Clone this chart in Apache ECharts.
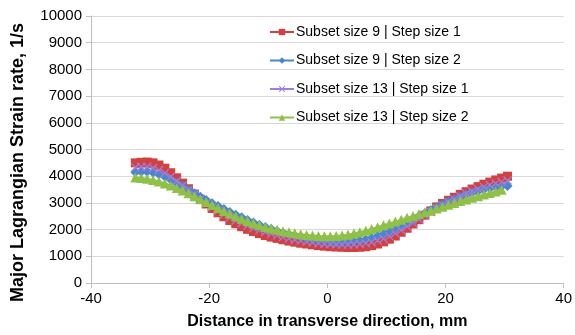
<!DOCTYPE html>
<html>
<head>
<meta charset="utf-8">
<script src="https://cdn.jsdelivr.net/npm/echarts@6/dist/echarts.min.js"></script>
<style>
  html, body { margin: 0; padding: 0; background: #fff; }
  #chart { width: 575px; height: 335px; }
</style>
</head>
<body>
<div id="chart"></div>
<script>
// distance in transverse direction, mm
const positions = [
  -32.5, -31.5, -30.5, -29.5, -28.5, -27.5, -26.5, -25.5, -24.5, -23.5, -22.5,
  -21.5, -20.5, -19.5, -18.5, -17.5, -16.5, -15.5, -14.5, -13.5, -12.5, -11.5,
  -10.5, -9.5, -8.5, -7.5, -6.5, -5.5, -4.5, -3.5, -2.5, -1.5, -0.5,
  0.5, 1.5, 2.5, 3.5, 4.5, 5.5, 6.5, 7.5, 8.5, 9.5, 10.5,
  11.5, 12.5, 13.5, 14.5, 15.5, 16.5, 17.5, 18.5, 19.5, 20.5, 21.5,
  22.5, 23.5, 24.5, 25.5, 26.5, 27.5, 28.5, 29.5, 30.5
]

// major lagrangian strain rate, 1/s
const subset9step1 = [
  4500, 4520, 4530, 4500, 4420, 4300, 4130, 3940, 3740, 3530, 3330,
  3140, 2960, 2790, 2630, 2480, 2340, 2220, 2110, 2010, 1930, 1850,
  1780, 1720, 1670, 1620, 1570, 1530, 1490, 1460, 1430, 1400, 1380,
  1360, 1350, 1340, 1330, 1330, 1340, 1360, 1400, 1460, 1540, 1640,
  1760, 1900, 2050, 2210, 2370, 2540, 2700, 2850, 2980, 3100, 3210,
  3320, 3420, 3520, 3610, 3700, 3780, 3860, 3930, 4000
]
const subset9step2 = [
  4150, 4170, 4170, 4140, 4070, 3980, 3870, 3750, 3620, 3490, 3360,
  3230, 3110, 2990, 2880, 2770, 2660, 2560, 2460, 2360, 2270, 2180,
  2100, 2020, 1950, 1880, 1820, 1760, 1710, 1660, 1620, 1590, 1560,
  1540, 1530, 1530, 1540, 1560, 1590, 1630, 1690, 1760, 1840, 1930,
  2030, 2140, 2250, 2370, 2490, 2610, 2730, 2840, 2950, 3050, 3140,
  3230, 3310, 3380, 3440, 3500, 3550, 3590, 3620, 3630
]
const subset13step1 = [
  4330, 4350, 4350, 4310, 4230, 4120, 3980, 3820, 3650, 3480, 3310,
  3140, 2990, 2840, 2700, 2570, 2450, 2340, 2240, 2150, 2060, 1980,
  1910, 1840, 1780, 1720, 1670, 1620, 1580, 1550, 1520, 1490, 1470,
  1460, 1450, 1440, 1440, 1450, 1460, 1490, 1530, 1590, 1660, 1750,
  1860, 1980, 2110, 2250, 2390, 2530, 2660, 2790, 2910, 3030, 3140,
  3250, 3350, 3440, 3520, 3600, 3670, 3730, 3790, 3840
]
const subset13step2 = [
  3950, 3930, 3900, 3860, 3800, 3730, 3650, 3560, 3460, 3360, 3250,
  3140, 3030, 2920, 2810, 2700, 2600, 2500, 2410, 2320, 2240, 2170,
  2100, 2040, 1990, 1940, 1900, 1860, 1830, 1800, 1780, 1760, 1750,
  1750, 1760, 1780, 1810, 1850, 1900, 1960, 2020, 2090, 2160, 2230,
  2300, 2370, 2440, 2510, 2580, 2650, 2720, 2790, 2860, 2930, 3000,
  3070, 3130, 3190, 3250, 3310, 3370, 3430, 3490, null
]

const seriesNames = [
  'Subset size 9 | Step size 1',
  'Subset size 9 | Step size 2',
  'Subset size 13 | Step size 1',
  'Subset size 13 | Step size 2'
]

const xMark = 'path://M0,1 L1,0 L5,4 L9,0 L10,1 L6,5 L10,9 L9,10 L5,6 L1,10 L0,9 L4,5 Z'

function pairs(values) {
  return positions.map((x, i) => [x, values[i]])
}

function makeSeries(name, values, color, symbol, size) {
  return {
    name: name,
    type: 'line',
    data: pairs(values),
    symbol: symbol,
    symbolSize: size,
    showAllSymbol: true,
    connectNulls: false,
    itemStyle: { color: color },
    lineStyle: { color: color, width: 2 },
    emphasis: { disabled: true },
    animation: false
  }
}

const chart = echarts.init(document.getElementById('chart'))
chart.setOption({
  textStyle: { fontFamily: 'Liberation Sans, Arial, sans-serif' },
  grid: {
    left: 91,
    right: 10,
    top: 16,
    bottom: 51
  },
  legend: {
    orient: 'vertical',
    left: 264,
    top: 20,
    itemWidth: 24,
    itemHeight: 8,
    itemGap: 14.5,
    textStyle: { fontSize: 14, color: '#000', padding: [0, 0, 0, -3] },
    data: seriesNames
  },
  xAxis: {
    type: 'value',
    min: -40,
    max: 40,
    interval: 20,
    name: 'Distance in transverse direction, mm',
    nameLocation: 'middle',
    nameGap: 31,
    nameTextStyle: { fontSize: 16, fontWeight: 'bold', color: '#000' },
    splitLine: { show: false },
    axisLine: { lineStyle: { color: '#bfbfbf' } },
    axisTick: { show: true, length: 5, lineStyle: { color: '#bfbfbf' } },
    axisLabel: { fontSize: 15, color: '#000', margin: 8 }
  },
  yAxis: {
    type: 'value',
    min: 0,
    max: 10000,
    interval: 1000,
    name: 'Major Lagrangian Strain rate, 1/s',
    nameLocation: 'middle',
    nameRotate: 90,
    nameGap: 64,
    nameTextStyle: { fontSize: 18, fontWeight: 'bold', color: '#000', padding: [0, 26, 0, 0] },
    splitLine: { lineStyle: { color: '#d9d9d9' } },
    axisLine: { show: true, onZero: false, lineStyle: { color: '#bfbfbf' } },
    axisTick: { show: true, length: 5, lineStyle: { color: '#bfbfbf' } },
    axisLabel: { fontSize: 15, color: '#000', margin: 9, formatter: v => String(v) }
  },
  series: [
    makeSeries(seriesNames[0], subset9step1, '#d2403f', 'rect', 9),
    makeSeries(seriesNames[1], subset9step2, '#4a86d0', 'diamond', 10),
    makeSeries(seriesNames[2], subset13step1, '#a17ed8', xMark, 9),
    makeSeries(seriesNames[3], subset13step2, '#8fc048', 'triangle', 10)
  ]
})
</script>
</body>
</html>
